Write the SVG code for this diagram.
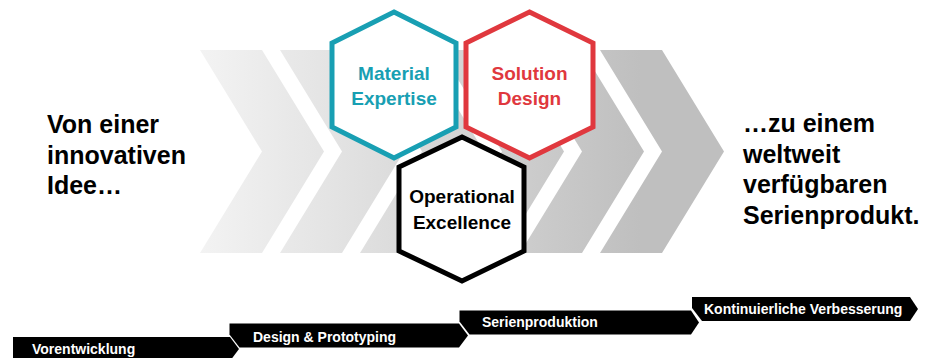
<svg xmlns="http://www.w3.org/2000/svg" width="945" height="358" viewBox="0 0 945 358">
  <style>
    .big { font-family: "Liberation Sans", Arial, sans-serif; font-weight: bold; font-size: 25px; fill: #000; }
    .hex { fill: #fff; stroke-width: 5; stroke-linejoin: miter; }
    .hextxt { font-family: "Liberation Sans", Arial, sans-serif; font-weight: bold; font-size: 19px; text-anchor: middle; }
    .bar { fill: #000; }
    .bartxt { font-family: "Liberation Sans", Arial, sans-serif; font-weight: bold; font-size: 14px; fill: #fff; }
    .chev { fill: url(#chevGrad); }
  </style>
  <defs>
    <linearGradient id="chevGrad" gradientUnits="userSpaceOnUse" x1="200" y1="0" x2="640" y2="0">
      <stop offset="0" stop-color="#f3f3f3"/>
      <stop offset="1" stop-color="#bfbfbf"/>
    </linearGradient>
  </defs>

  <g id="chevrons">
    <polygon class="chev" points="200,50 262,50 324,151.5 262,253 200,253 262,151.5"/>
    <polygon class="chev" points="280,50 342,50 404,151.5 342,253 280,253 342,151.5"/>
    <polygon class="chev" points="360,50 422,50 484,151.5 422,253 360,253 422,151.5"/>
    <polygon class="chev" points="440,50 502,50 564,151.5 502,253 440,253 502,151.5"/>
    <polygon class="chev" points="520,50 582,50 644,151.5 582,253 520,253 582,151.5"/>
    <polygon class="chev" points="600,50 662,50 724,151.5 662,253 600,253 662,151.5"/>
  </g>

  <g id="text-left">
    <text class="big" x="47" y="133">Von einer</text>
    <text class="big" x="47" y="164">innovativen</text>
    <text class="big" x="47" y="194">Idee…</text>
  </g>

  <g id="text-right">
    <text class="big" x="743" y="132">…zu einem</text>
    <text class="big" x="743" y="163">weltweit</text>
    <text class="big" x="743" y="193">verfügbaren</text>
    <text class="big" x="743" y="224">Serienprodukt.</text>
  </g>

  <g id="hex-material">
    <polygon class="hex" stroke="#189fb3" points="394,12 456,43 456,127 394,158 332,127 332,43"/>
    <text class="hextxt" fill="#189fb3" x="394" y="80">Material</text>
    <text class="hextxt" fill="#189fb3" x="394" y="105">Expertise</text>
  </g>

  <g id="hex-solution">
    <polygon class="hex" stroke="#e0383e" points="529.5,12 593,43 593,127 529.5,158 466,127 466,43"/>
    <text class="hextxt" fill="#e0383e" x="529.5" y="80">Solution</text>
    <text class="hextxt" fill="#e0383e" x="529.5" y="105">Design</text>
  </g>

  <g id="hex-operational">
    <polygon class="hex" stroke="#000" points="462,137 524,167 524,251 462,281 399,251 399,167"/>
    <text class="hextxt" fill="#000" x="462" y="203">Operational</text>
    <text class="hextxt" fill="#000" x="462" y="229">Excellence</text>
  </g>

  <g id="connectors"></g>

  <g id="phase-vorentwicklung">
    <polygon class="bar" points="13,337 230,337 239,349 230,361 13,361"/>
    <text class="bartxt" x="32" y="354">Vorentwicklung</text>
  </g>
  <g id="phase-design">
    <polygon class="bar" points="229.5,323.5 459,323.5 468,335.5 459,347.5 239.5,347.5 229.5,334.5"/>
    <text class="bartxt" x="253" y="341.5">Design &amp; Prototyping</text>
  </g>
  <g id="phase-serien">
    <polygon class="bar" points="459.5,310.5 691,310.5 699,322.5 691,334.5 469.5,334.5 459.5,321.5"/>
    <text class="bartxt" x="482" y="327">Serienproduktion</text>
  </g>
  <g id="phase-kontinuierlich">
    <polygon class="bar" points="692,297 910,297 918,309 910,321 702,321 692,308"/>
    <text class="bartxt" x="704" y="314">Kontinuierliche Verbesserung</text>
  </g>
</svg>
